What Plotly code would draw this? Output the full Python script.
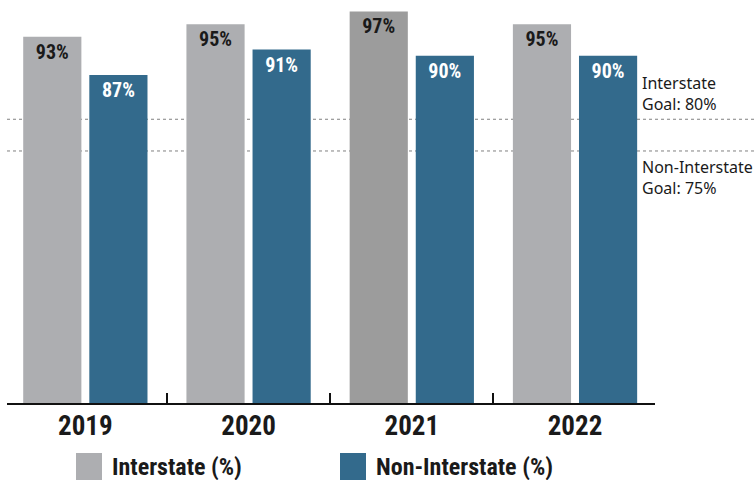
import plotly.graph_objects as go

years = ["2019", "2020", "2021", "2022"]
interstate = [93, 95, 97, 95]
non_interstate = [87, 91, 90, 90]
goal_interstate = 80
goal_non_interstate = 75
series_names = ["Interstate (%)", "Non-Interstate (%)"]

GRAY = "#adaeb1"
GRAY_DARK = "#9c9c9c"
BLUE = "#336a8c"
BOLD = "Roboto Condensed, Liberation Sans Narrow, DejaVu Sans Condensed, sans-serif"
REG = "Noto Sans, Open Sans, sans-serif"

inter_colors = [GRAY, GRAY, GRAY_DARK, GRAY]

fig = go.Figure()
fig.add_trace(go.Bar(
    x=years, y=interstate, name=series_names[0],
    marker=dict(color=inter_colors, line=dict(width=0)),
    text=[f"{v}%" for v in interstate], textposition="inside",
    insidetextanchor="end", textangle=0, constraintext="none",
    insidetextfont=dict(family=BOLD, size=20, color="#1a1a1a", weight=700),
    showlegend=False, hoverinfo="x+y",
))
fig.add_trace(go.Bar(
    x=years, y=non_interstate, name=series_names[1],
    marker=dict(color=BLUE, line=dict(width=0)),
    text=[f"{v}%" for v in non_interstate], textposition="inside",
    insidetextanchor="end", textangle=0, constraintext="none",
    insidetextfont=dict(family=BOLD, size=20, color="white", weight=700),
    showlegend=False, hoverinfo="x+y",
))

for g in (goal_interstate, goal_non_interstate):
    fig.add_shape(type="line", xref="paper", x0=0, x1=1.17, yref="y", y0=g, y1=g,
                  line=dict(color="#808080", width=1, dash="dot"), layer="below")

fig.add_annotation(xref="paper", x=0.981, xshift=-3, yref="y", y=goal_interstate,
                   xanchor="left", yanchor="bottom", yshift=2, align="left",
                   text="Interstate<br>Goal: 80%", showarrow=False,
                   font=dict(family=REG, size=16, color="#1a1a1a"))
fig.add_annotation(xref="paper", x=0.981, xshift=-3, yref="y", y=goal_non_interstate,
                   xanchor="left", yanchor="top", yshift=-3, align="left",
                   text="Non-Interstate<br>Goal: 75%", showarrow=False,
                   font=dict(family=REG, size=16, color="#1a1a1a"))

# custom legend
legend_items = [(0.1065, 0.1466, GRAY, 0.1636, series_names[0]),
                (0.5139, 0.5540, BLUE, 0.571, series_names[1])]
for x0, x1, col, tx, label in legend_items:
    fig.add_shape(type="rect", xref="paper", yref="paper", x0=x0, x1=x1,
                  y0=-0.193, y1=-0.124, fillcolor=col, line=dict(width=0))
    fig.add_annotation(xref="paper", yref="paper", x=tx, xshift=-3, y=-0.159,
                       xanchor="left", yanchor="middle", text=label, showarrow=False,
                       font=dict(family=BOLD, size=24, color="#1a1a1a", weight=700))

fig.update_layout(
    width=756, height=480,
    margin=dict(l=7, r=101, t=0, b=77),
    paper_bgcolor="white", plot_bgcolor="white",
    barmode="group", bargap=0.19, bargroupgap=0.12,
    xaxis=dict(type="category", range=[-0.48, 3.49], showline=True,
               linecolor="#111111", linewidth=2, ticks="inside", tickson="boundaries",
               ticklen=10, tickwidth=2, tickcolor="#111111", showgrid=False,
               ticklabelstandoff=-2,
               tickfont=dict(family=BOLD, size=27, color="#1a1a1a", weight=700)),
    yaxis=dict(range=[35.25, 98.81], visible=False, showgrid=False, zeroline=False),
)

fig.write_html("out.html", config={"displayModeBar": False},
               post_script="document.body.style.margin='0px';document.body.style.overflow='hidden';")
